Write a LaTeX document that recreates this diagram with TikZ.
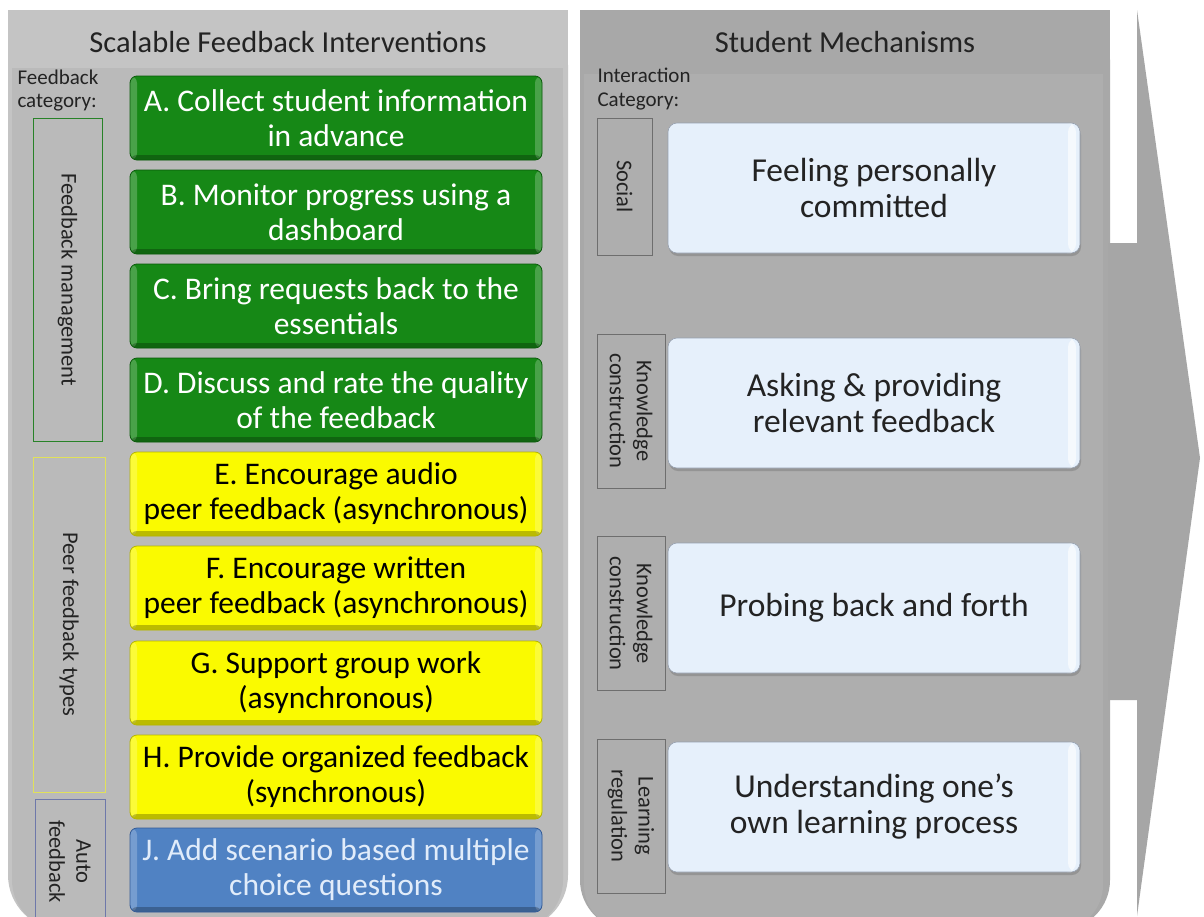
\documentclass[tikz,border=0pt]{standalone}
\usepackage{fontspec}
\setmainfont{Carlito}
\usetikzlibrary{shadows}
\definecolor{panelL}{RGB}{196,196,196}
\definecolor{panelLin}{RGB}{186,186,186}
\definecolor{panelR}{RGB}{168,168,168}
\definecolor{panelRin}{RGB}{174,174,174}
\definecolor{arrowgray}{RGB}{166,166,166}
\definecolor{fbgreen}{RGB}{22,136,22}
\definecolor{fbgreendark}{RGB}{10,90,10}
\definecolor{fbyellow}{RGB}{250,250,0}
\definecolor{fbyellowdark}{RGB}{180,180,0}
\definecolor{fbblue}{RGB}{80,130,195}
\definecolor{fbbluedark}{RGB}{50,90,150}
\definecolor{lightbox}{RGB}{230,240,251}
\definecolor{lightboxedge}{RGB}{150,160,175}
\definecolor{catgreen}{RGB}{40,130,40}
\definecolor{catyellow}{RGB}{225,225,90}
\definecolor{catblue}{RGB}{110,120,170}
\definecolor{catgray}{RGB}{110,110,110}
\definecolor{txtdark}{RGB}{35,35,35}
\tikzset{
  ibox/.style={rounded corners=7pt, minimum width=412pt, minimum height=84pt,
    inner sep=0pt, align=center, font=\fontsize{31.5}{35}\selectfont, line width=0.8pt,
    path picture={
      \fill[white,opacity=0.22] (path picture bounding box.north west) rectangle ([xshift=7pt]path picture bounding box.south west);
      \fill[white,opacity=0.22] ([xshift=-7pt]path picture bounding box.north east) rectangle (path picture bounding box.south east);
      \fill[black,opacity=0.25] ([yshift=5pt]path picture bounding box.south west) rectangle (path picture bounding box.south east);
    }},
  greenbox/.style={ibox, fill=fbgreen, draw=fbgreendark, text=white},
  yellowbox/.style={ibox, fill=fbyellow, draw=fbyellowdark, text=black},
  bluebox/.style={ibox, fill=fbblue, draw=fbbluedark, text={rgb,255:red,225;green,236;blue,250}},
  mechbox/.style={rounded corners=9pt, minimum width=412pt, minimum height=130pt,
    inner sep=0pt, align=center, font=\fontsize{33.5}{36}\selectfont, text=txtdark,
    fill=lightbox, draw=lightboxedge, line width=0.6pt,
    drop shadow={shadow xshift=1pt, shadow yshift=-3pt, opacity=0.55},
    path picture={
      \fill[white,opacity=0.6] ([xshift=-12pt]path picture bounding box.north east) rectangle ([xshift=-4pt]path picture bounding box.south east);
    }},
  catbox/.style={rotate=-90, inner sep=0pt, align=center, line width=0.8pt},
  cattext/.style={font=\fontsize{22.5}{25}\selectfont, text=txtdark},
  smallcat/.style={font=\fontsize{22.5}{27}\selectfont, text=txtdark},
  headtext/.style={font=\fontsize{30.5}{34}\selectfont, text=txtdark},
}
\begin{document}
\begin{tikzpicture}[x=1pt,y=-1pt]
\useasboundingbox (0,0) rectangle (1204,916);
\fill[white] (0,0) rectangle (1204,916);
\begin{scope}
\clip (0,0) rectangle (1204,916);
% left panel
\fill[panelL, rounded corners=55pt] (8,10) -- (568,10) -- (568,930) -- (8,930) -- cycle;
\fill[panelL] (8,10) rectangle (568,80);
\fill[panelLin, rounded corners=50pt] (12,68) -- (563,68) -- (563,930) -- (12,930) -- cycle;
\fill[panelLin] (12,68) rectangle (563,120);
% right panel
\fill[panelR, rounded corners=50pt] (580,10) -- (1110,10) -- (1110,930) -- (580,930) -- cycle;
\fill[panelR] (580,10) rectangle (1110,80);
\fill[panelRin, rounded corners=45pt] (584,74) -- (1103,74) -- (1103,930) -- (584,930) -- cycle;
\fill[panelRin] (584,74) rectangle (1103,120);
% big arrow
\fill[arrowgray] (1108,243) -- (1137,243) -- (1137,10) -- (1200,458) -- (1137,916) -- (1137,700) -- (1108,700) -- cycle;
\end{scope}

% headers
\node[headtext] (hl) at (288,42) {Scalable Feedback Interventions};
\node[headtext] (hr) at (845,42) {Student Mechanisms};
\node[cattext, font=\fontsize{21}{23}\selectfont, anchor=north west, align=left] (fcat) at (14,66) {Feedback\\category:};
\node[cattext, font=\fontsize{21}{24}\selectfont, anchor=north west, align=left] (icat) at (594,64) {Interaction\\Category:};

% left category boxes
\node[catbox, cattext, draw=catgreen, minimum width=323pt, minimum height=69pt] (fm) at (67.5,279.5) {Feedback management};
\node[catbox, cattext, draw=catyellow, minimum width=335pt, minimum height=72pt] (pft) at (69,624.5) {Peer feedback types};
\node[catbox, smallcat, draw=catblue, minimum width=125pt, minimum height=70pt] (af) at (70,861.5) {Auto\\feedback};

% intervention boxes
\node[greenbox] (A) at (336,118) {A. Collect student information\\in advance};
\node[greenbox] (B) at (336,212) {B. Monitor progress using a\\dashboard};
\node[greenbox] (C) at (336,306) {C. Bring requests back to the\\essentials};
\node[greenbox] (D) at (336,400) {D. Discuss and rate the quality\\of the feedback};
\node[yellowbox] (E) at (336,494) {E. Encourage audio\\peer feedback (asynchronous)};
\node[yellowbox] (F) at (336,588) {F. Encourage written\\peer feedback (asynchronous)};
\node[yellowbox] (G) at (336,683) {G. Support group work\\(asynchronous)};
\node[yellowbox] (H) at (336,777) {H. Provide organized feedback\\(synchronous)};
\node[bluebox] (J) at (336,870) {J. Add scenario based multiple\\choice questions};

% right category boxes
\node[catbox, smallcat, draw=catgray, minimum width=137pt, minimum height=55pt] (soc) at (624.5,186.5) {Social};
\node[catbox, smallcat, draw=catgray, minimum width=154pt, minimum height=68pt] (kc1) at (631,411) {Knowledge\\construction};
\node[catbox, smallcat, draw=catgray, minimum width=154pt, minimum height=68pt] (kc2) at (631,613.5) {Knowledge\\construction};
\node[catbox, smallcat, draw=catgray, minimum width=154pt, minimum height=68pt] (lr) at (631,816) {Learning\\regulation};

% mechanism boxes
\node[mechbox] (m1) at (874,188) {Feeling personally\\committed};
\node[mechbox] (m2) at (874,403) {Asking \& providing\\relevant feedback};
\node[mechbox] (m3) at (874,608) {Probing back and forth};
\node[mechbox] (m4) at (874,807) {Understanding one’s\\own learning process};
\end{tikzpicture}
\end{document}
